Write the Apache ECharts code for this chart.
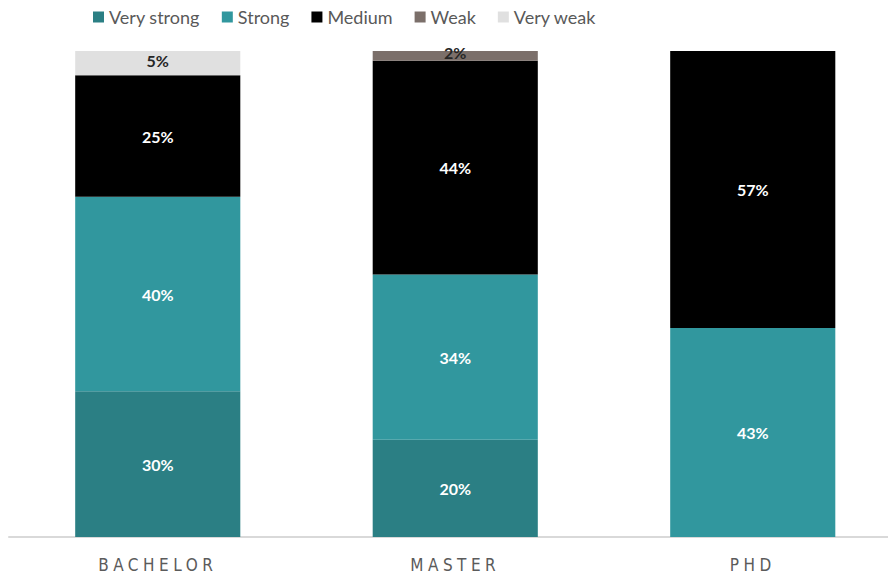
<!DOCTYPE html>
<html>
<head>
<meta charset="utf-8">
<script src="https://cdn.jsdelivr.net/npm/echarts@6/dist/echarts.min.js"></script>
<style>
  html, body { margin: 0; padding: 0; background: #ffffff; overflow: hidden; }
  #chart { width: 888px; height: 581px; }
  #chart text[fill="#5b5b5b"] { letter-spacing: 4.5px; }
</style>
</head>
<body>
<div id="chart"></div>
<script>
const categories = ['BACHELOR', 'MASTER', 'PHD'];
const seriesNames = ['Very strong', 'Strong', 'Medium', 'Weak', 'Very weak'];
const veryStrong = [30, 20, 0];
const strong = [40, 34, 43];
const medium = [25, 44, 57];
const weak = [0, 2, 0];
const veryWeak = [5, 0, 0];
const colors = ['#2b7f84', '#31979e', '#000000', '#7b6f6a', '#e0e0e0'];
const labelColors = ['#ffffff', '#ffffff', '#ffffff', '#262626', '#262626'];
const values = [veryStrong, strong, medium, weak, veryWeak];

const chart = echarts.init(document.getElementById('chart'), null, { renderer: 'svg' });
chart.setOption({
  animation: false,
  color: colors,
  legend: {
    left: 88,
    top: 3,
    itemWidth: 11,
    itemHeight: 11,
    itemGap: 22,
    icon: 'rect',
    textStyle: { fontFamily: 'Lato', fontSize: 18, color: '#595959' },
    data: seriesNames
  },
  grid: { left: 9, right: -13.5, top: 51, bottom: 44, outerBoundsMode: 'none', containLabel: false },
  xAxis: {
    type: 'category',
    data: categories,
    axisLine: { lineStyle: { color: '#d9d9d9', width: 2 } },
    axisTick: { show: false },
    axisLabel: { margin: 19, fontFamily: 'Liberation Sans Narrow, DejaVu Sans Condensed, Roboto', fontSize: 17, color: '#5b5b5b' }
  },
  yAxis: { type: 'value', min: 0, max: 100, show: false, splitLine: { show: false } },
  series: seriesNames.map((name, i) => ({
    name: name,
    type: 'bar',
    stack: 'total',
    barWidth: '55.5%',
    data: values[i],
    itemStyle: { color: colors[i] },
    label: {
      show: true,
      position: 'inside',
      offset: i >= 3 ? [0, -3] : [0, 0],
      color: labelColors[i],
      fontFamily: 'Lato',
      fontWeight: 'bold',
      fontSize: 16,
      formatter: p => p.value > 0 ? p.value + '%' : ''
    }
  }))
});
</script>
</body>
</html>
